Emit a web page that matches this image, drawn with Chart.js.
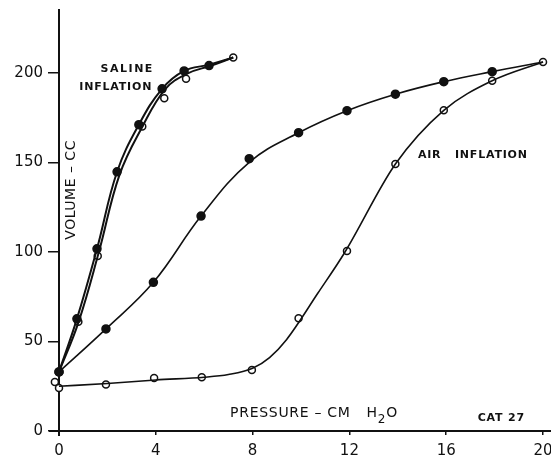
<!DOCTYPE html>
<html>
<head>
<meta charset="utf-8">
<script src="https://cdn.jsdelivr.net/npm/chart.js@4"></script>
<style>
  html, body { margin: 0; padding: 0; background: #fff; }
</style>
</head>
<body>
<canvas id="pvChart" width="551" height="456"></canvas>
<script>
// Pressure-volume curves, Cat 27
const xTicks = [0, 4, 8, 12, 16, 20];
const yTicks = [0, 50, 100, 150, 200];

// saline inflation - measured points
const salineFilledP = [0, 0.74, 1.57, 2.4, 3.3, 4.26, 5.17, 6.2];
const salineFilledV = [33, 62.6, 101.7, 144.7, 171, 191, 201, 204];
const salineOpenP = [0.8, 1.6, 3.44, 4.35, 5.25, 7.2];
const salineOpenV = [61, 97.7, 170, 185.7, 196.6, 208.5];

// saline inflation - the two hand drawn curves
const salineOuterP = [0, 0.74, 1.57, 2.4, 3.3, 4.26, 5.17, 6.2, 7.2];
const salineOuterV = [33, 62.6, 101.7, 144.7, 171, 191, 201, 204.5, 208.5];
const salineInnerP = [0, 0.8, 1.65, 2.5, 3.45, 4.4, 5.3, 6.3, 7.2];
const salineInnerV = [33, 60.5, 100, 143, 170, 191, 199.5, 204, 208.5];

// air inflation - filled points (upper curve)
const airFilledP = [0, 1.94, 3.9, 5.87, 7.86, 9.9, 11.9, 13.9, 15.9, 17.9];
const airFilledV = [33, 57, 83, 120, 152, 166.5, 178.8, 188, 195, 200.6];
// upper curve as drawn
const airUpperP = [0, 1.94, 3.9, 5.87, 7.86, 9.9, 11.9, 13.9, 15.9, 17.9, 20];
const airUpperV = [33, 57, 83, 120, 150, 166.5, 178.8, 188, 195, 200.6, 206];

// air inflation - open points (lower curve)
const airOpenP = [0, 1.94, 3.93, 5.9, 7.97, 9.9, 11.9, 13.9, 15.9, 17.9, 20];
const airOpenV = [24, 26, 29.6, 30, 34, 63, 100.5, 149, 179, 195.5, 206];
// lower curve as drawn
const airLowerP = [0, 2, 4, 6, 7, 8, 8.7, 9.4, 10.7, 11.8, 13.9, 15.9, 17.9, 20];
const airLowerV = [25, 26.5, 28.5, 30, 31.5, 35, 41, 51, 77, 99.5, 149, 179, 195.5, 206];

// stray open point just left of the origin
const strayP = [-0.17];
const strayV = [27.4];

function pts(p, v) {
    return p.map((x, i) => ({ x: x, y: v[i] }));
}

function curve(p, v, width, mode) {
    return {
        data: pts(p, v),
        borderColor: '#111',
        borderWidth: width,
        pointRadius: 0,
        tension: 0.4,
        cubicInterpolationMode: mode || 'default',
        fill: false,
        clip: false
    };
}

function markers(p, v, filled, r) {
    return {
        data: pts(p, v),
        showLine: false,
        pointRadius: r,
        pointBorderWidth: 1.5,
        pointBorderColor: '#111',
        pointBackgroundColor: filled ? '#111' : '#fff',
        clip: false
    };
}

const annotate = {
    id: 'annotate',
    afterDraw(chart) {
        const ctx = chart.ctx;
        const xs = chart.scales.x;
        const ys = chart.scales.y;
        const area = chart.chartArea;
        ctx.save();

        // axes run a little past the origin, as in the drawing
        ctx.strokeStyle = '#111';
        ctx.lineWidth = 2;
        ctx.beginPath();
        ctx.moveTo(area.left - 10, area.bottom);
        ctx.lineTo(area.left, area.bottom);
        ctx.moveTo(area.left, area.bottom);
        ctx.lineTo(area.left, area.bottom + 5);
        ctx.stroke();

        ctx.fillStyle = '#111';
        ctx.textBaseline = 'middle';

        // curve labels
        ctx.font = 'bold 11px "DejaVu Sans"';
        ctx.textAlign = 'right';
        ctx.letterSpacing = '1.5px';
        ctx.fillText('SALINE', xs.getPixelForValue(3.92), ys.getPixelForValue(202));
        ctx.letterSpacing = '0.8px';
        ctx.fillText('INFLATION', xs.getPixelForValue(3.85), ys.getPixelForValue(192));
        ctx.textAlign = 'left';
        ctx.fillText('AIR', xs.getPixelForValue(14.83), ys.getPixelForValue(154));
        ctx.fillText('INFLATION', xs.getPixelForValue(16.36), ys.getPixelForValue(154));
        ctx.fillText('CAT 27', xs.getPixelForValue(17.3), ys.getPixelForValue(7.3));

        // axis titles
        ctx.font = '14px "DejaVu Sans"';
        ctx.letterSpacing = '0.7px';
        let x = xs.getPixelForValue(7.07);
        const y = ys.getPixelForValue(10);
        ctx.fillText('PRESSURE \u2013 CM', x, y);
        x += ctx.measureText('PRESSURE \u2013 CM').width + 16;
        ctx.fillText('H', x, y);
        x += ctx.measureText('H').width;
        ctx.font = '12px "DejaVu Sans"';
        ctx.fillText('2', x, y + 7);
        x += ctx.measureText('2').width;
        ctx.font = '14px "DejaVu Sans"';
        ctx.fillText('O', x, y);

        ctx.letterSpacing = '0.5px';
        ctx.translate(xs.getPixelForValue(0.5), ys.getPixelForValue(134.6));
        ctx.rotate(-Math.PI / 2);
        ctx.textAlign = 'center';
        ctx.fillText('VOLUME \u2013 CC', 0, 0);
        ctx.restore();
    }
};

new Chart(document.getElementById('pvChart').getContext('2d'), {
    type: 'line',
    data: {
        datasets: [
            curve(salineOuterP, salineOuterV, 2),
            curve(salineInnerP, salineInnerV, 2),
            curve(airUpperP, airUpperV, 1.6),
            curve(airLowerP, airLowerV, 1.6, 'monotone'),
            markers(salineFilledP, salineFilledV, true, 4),
            markers(salineOpenP, salineOpenV, false, 3.5),
            markers(airFilledP, airFilledV, true, 4),
            markers(airOpenP, airOpenV, false, 3.5),
            markers(strayP, strayV, false, 3.5)
        ]
    },
    options: {
        responsive: false,
        animation: false,
        layout: {
            autoPadding: false,
            padding: { top: 10, right: 0, left: 0, bottom: 0 }
        },
        plugins: {
            legend: { display: false },
            tooltip: { enabled: false }
        },
        scales: {
            x: {
                type: 'linear',
                min: 0,
                max: 20.33,
                afterBuildTicks: s => { s.ticks = xTicks.map(v => ({ value: v })); },
                afterFit: s => {
                    s.height = 25;
                    s.paddingLeft = 0;
                    s.paddingRight = 0;
                },
                border: { display: true, color: '#111', width: 2 },
                grid: { drawOnChartArea: false, drawTicks: true, tickLength: 4, color: '#111', lineWidth: 1.5 },
                ticks: {
                    color: '#111',
                    font: { family: 'DejaVu Sans', size: 15 },
                    padding: 7,
                    maxRotation: 0,
                    autoSkip: false
                }
            },
            y: {
                min: 0,
                max: 235,
                afterBuildTicks: s => { s.ticks = yTicks.map(v => ({ value: v })); },
                afterFit: s => {
                    s.width = 59;
                    s.paddingTop = 0;
                    s.paddingBottom = 0;
                },
                border: { display: true, color: '#111', width: 2 },
                grid: { drawOnChartArea: false, drawTicks: true, tickLength: 11, color: '#111', lineWidth: 1.5 },
                ticks: {
                    color: '#111',
                    font: { family: 'DejaVu Sans', size: 15 },
                    padding: 5
                }
            }
        }
    },
    plugins: [annotate]
});
</script>
</body>
</html>
